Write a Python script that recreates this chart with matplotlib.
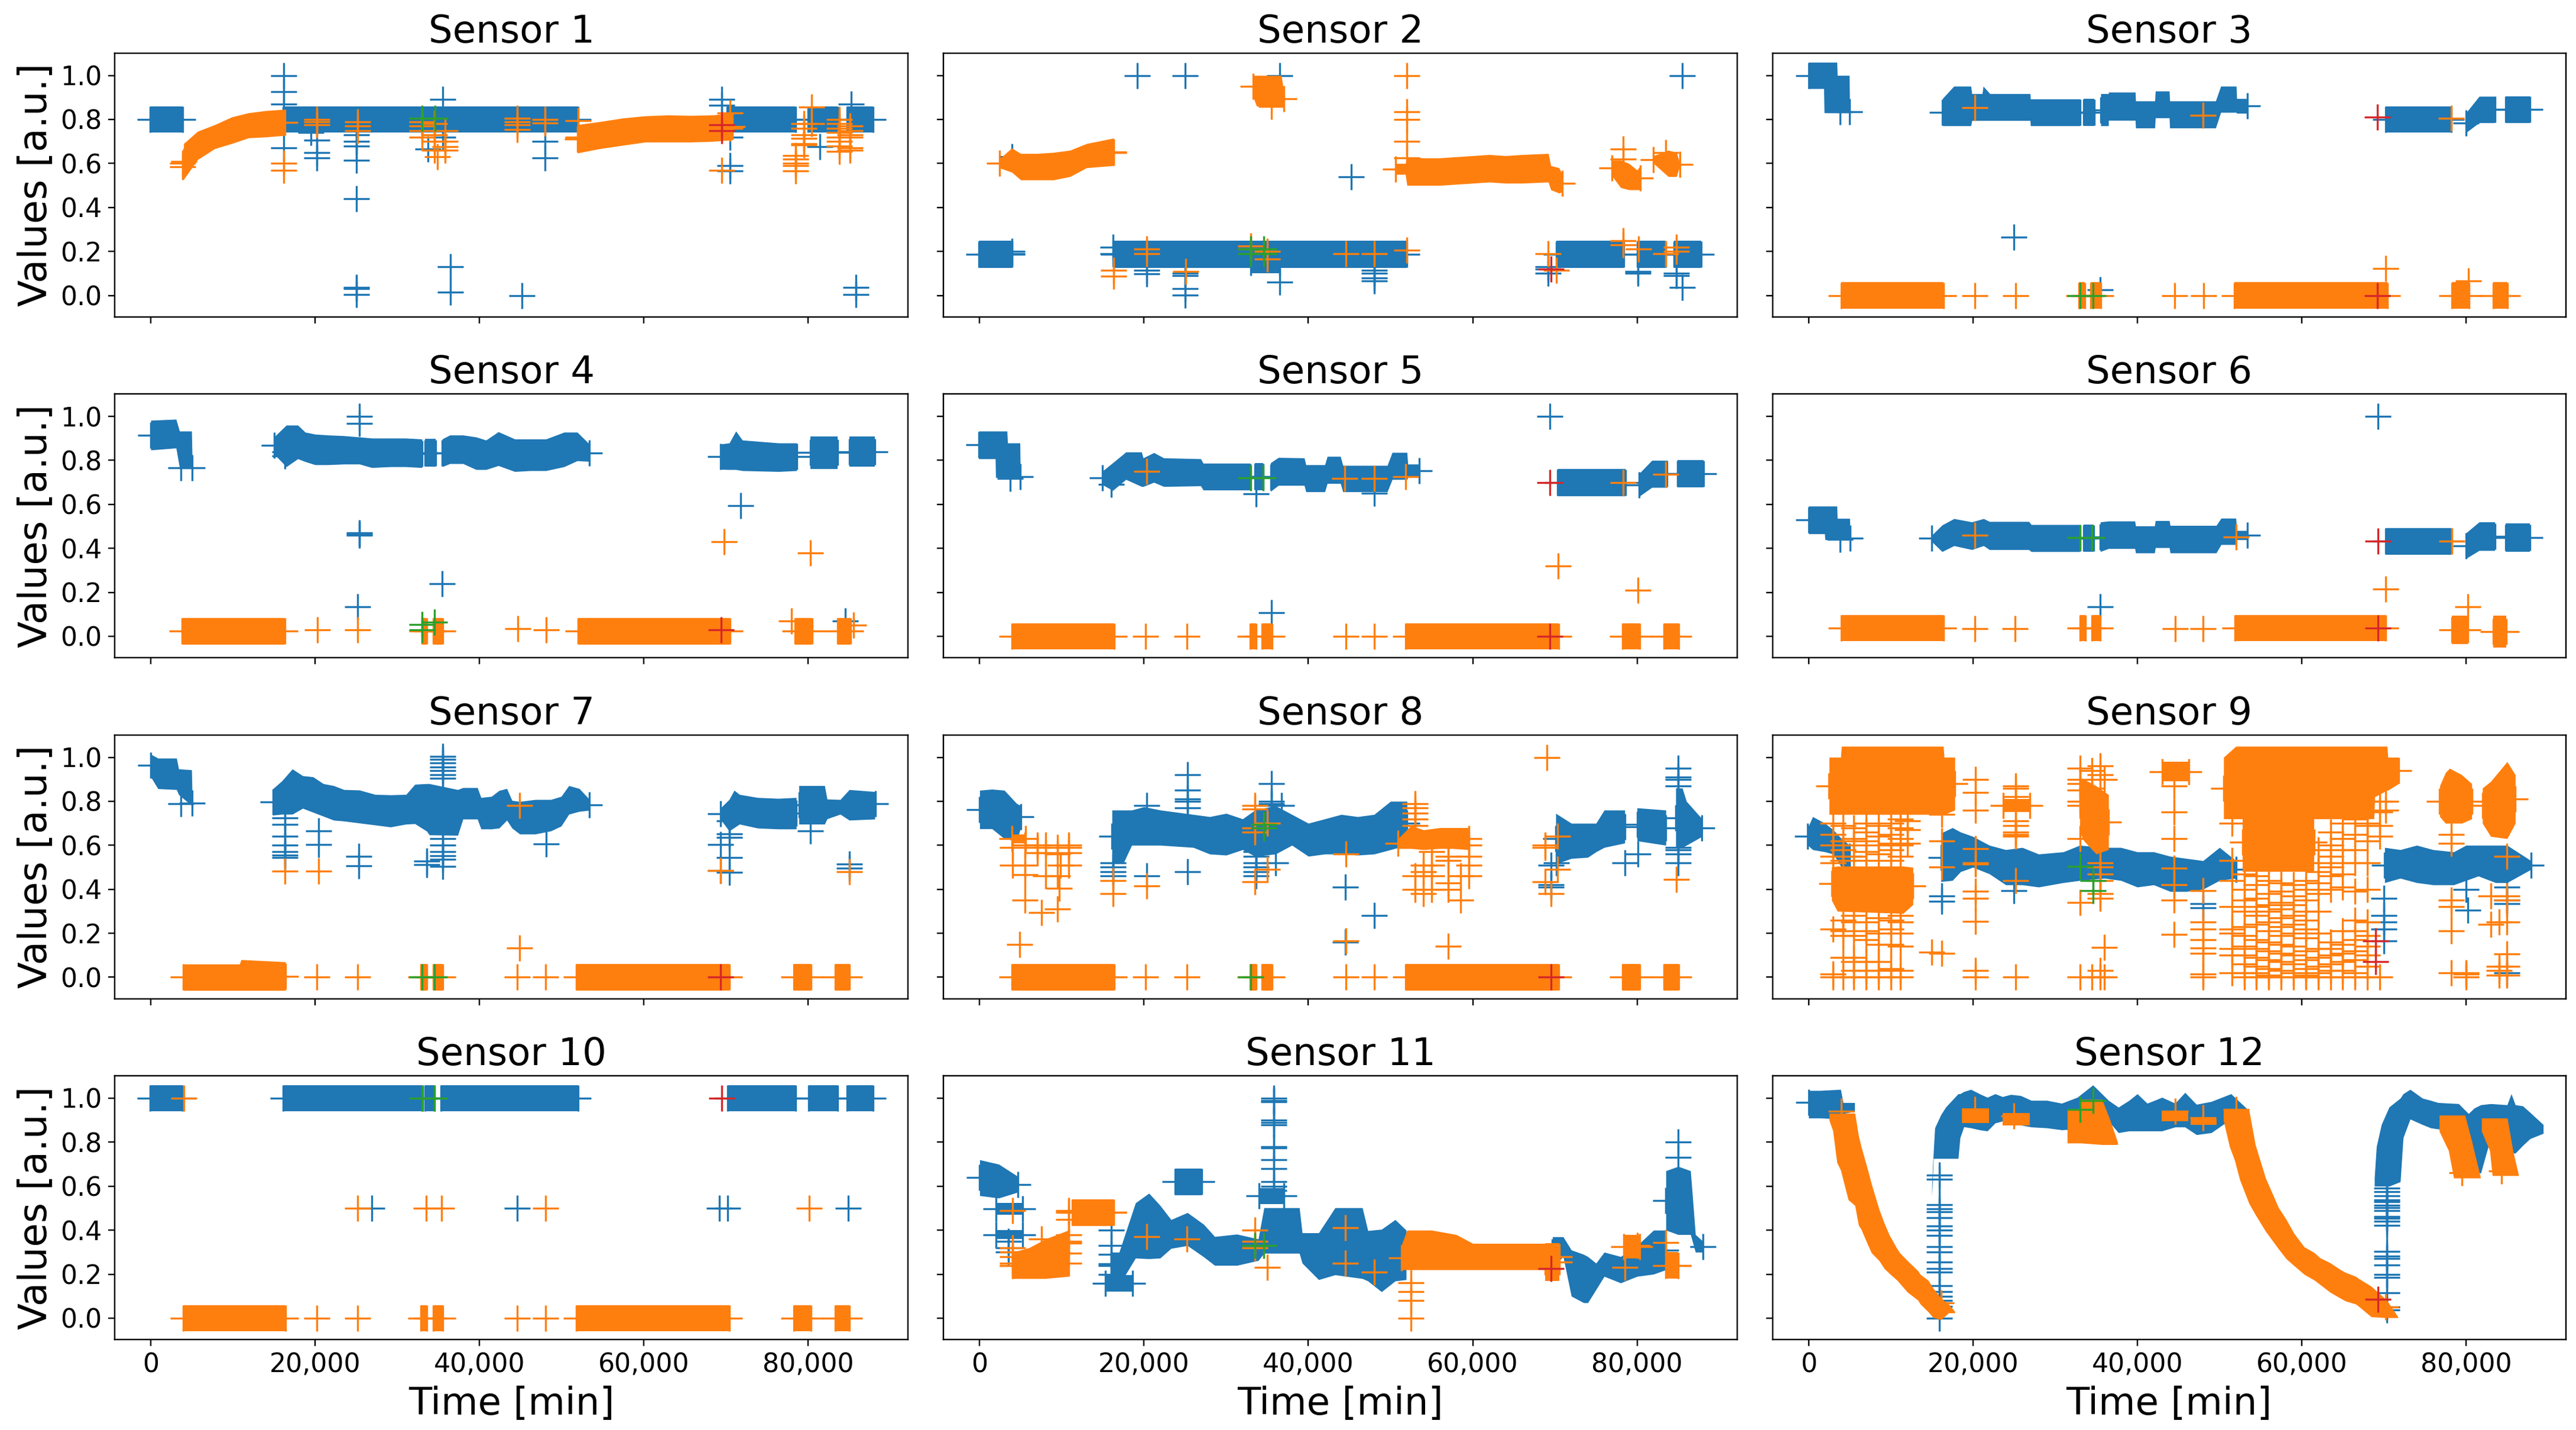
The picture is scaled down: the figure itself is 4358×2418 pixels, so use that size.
import matplotlib
matplotlib.use("Agg")
import matplotlib.pyplot as plt
from matplotlib.ticker import StrMethodFormatter

titles = [f"Sensor {i}" for i in range(1, 13)]
x_ticks = [0, 20000, 40000, 60000, 80000]
y_ticks = [0.0, 0.2, 0.4, 0.6, 0.8, 1.0]

zero_runs = [
    [(3950, -0.06, 0.06), (16400, -0.06, 0.06)],
    [(32900, -0.06, 0.06), (33600, -0.06, 0.06)],
    [(34350, -0.06, 0.06), (35550, -0.06, 0.06)],
    [(51800, -0.06, 0.06), (70450, -0.06, 0.06)],
    [(78250, -0.06, 0.06), (80350, -0.06, 0.06)],
    [(83300, -0.06, 0.06), (85050, -0.06, 0.06)],
]
zero_pts = [(20200, [0.0]), (25200, [0.0]), (44570, [0.0]), (48050, [0.0])]

# sensor 1
s1_blue_runs = [
    [(-100, 0.74, 0.86), (3900, 0.74, 0.86)],
    [(16100, 0.74, 0.86), (52000, 0.74, 0.86)],
    [(70100, 0.74, 0.86), (78500, 0.74, 0.86)],
    [(80000, 0.74, 0.86), (83600, 0.74, 0.86)],
    [(84700, 0.74, 0.86), (87900, 0.74, 0.86)],
]
s1_blue_pts = [(16200, [1.0, 0.925, 0.87, 0.67]), (19500, [0.74]), (20200, [0.705, 0.65, 0.625]),
               (25000, [0.73, 0.70, 0.68, 0.615, 0.44, 0.035, 0.03, 0.005]), (33700, [0.665]),
               (35500, [0.89, 0.72]), (36500, [0.13, 0.015]), (45200, [0.0]), (48000, [0.70, 0.625]),
               (69500, [0.89, 0.865]), (70500, [0.72, 0.59, 0.565]), (81400, [0.675]),
               (85200, [0.87]), (85800, [0.035, 0.003])]
s1_orange_runs = [
    [(4000, 0.527, 0.69), (5700, 0.617, 0.746), (7790, 0.667, 0.776), (9850, 0.69, 0.811), (11900, 0.716, 0.83),
     (14000, 0.72, 0.84), (16300, 0.727, 0.846)],
    [(51900, 0.647, 0.776), (54650, 0.667, 0.79), (57400, 0.682, 0.806), (60200, 0.697, 0.816), (62900, 0.697, 0.82),
     (65700, 0.697, 0.818), (68400, 0.70, 0.82), (70800, 0.707, 0.83)],
]
s1_orange_pts = [(3900, [0.60, 0.585]), (16200, [0.60, 0.57]), (20200, [0.80, 0.79, 0.775]), (25200, [0.79, 0.77, 0.75]),
                 (33000, [0.79, 0.77, 0.75, 0.72]), (34500, [0.78, 0.73, 0.70, 0.66]), (34900, [0.63]),
                 (35800, [0.75, 0.70, 0.675, 0.66]), (44600, [0.805, 0.79, 0.775, 0.755]), (48000, [0.80, 0.785]),
                 (52000, [0.795, 0.72, 0.71]), (69500, [0.57]), (70500, [0.83, 0.76]),
                 (78500, [0.635, 0.62, 0.60, 0.59, 0.565]), (79500, [0.78, 0.76, 0.73, 0.715, 0.69, 0.685]),
                 (80400, [0.855, 0.78]), (83800, [0.80, 0.78, 0.76, 0.74, 0.72, 0.70, 0.68, 0.655]),
                 (85100, [0.77, 0.75, 0.73, 0.72, 0.67, 0.66])]
s1_green_pts = [(33000, [0.805]), (34600, [0.805])]
s1_red_pts = [(69500, [0.775, 0.75])]

# sensor 2
s2_blue_runs = [
    [(-100, 0.125, 0.25), (3900, 0.125, 0.25)],
    [(16300, 0.125, 0.25), (52000, 0.125, 0.25)],
    [(33000, 0.10, 0.20), (36500, 0.10, 0.20)],
    [(70200, 0.125, 0.25), (78400, 0.125, 0.25)],
    [(80000, 0.125, 0.25), (83500, 0.125, 0.25)],
    [(84500, 0.125, 0.25), (87800, 0.125, 0.25)],
]
s2_blue_pts = [(19200, [1.0]), (25000, [1.0, 0.10, 0.09, 0.03, 0.002]), (36500, [1.0, 0.06]), (85500, [1.0, 0.035]),
               (45200, [0.54]), (16200, [0.22, 0.19]), (20300, [0.115, 0.097]), (48000, [0.115, 0.10, 0.08, 0.065]),
               (69200, [0.13, 0.12, 0.10]), (80100, [0.11, 0.10]), (84800, [0.10, 0.09]), (3900, [0.19, 0.20, 0.63])]
s2_orange_runs = [
    [(2400, 0.58, 0.62), (3900, 0.56, 0.67), (5000, 0.525, 0.645), (7000, 0.525, 0.645), (9000, 0.525, 0.65),
     (11000, 0.54, 0.66), (13000, 0.58, 0.69), (16300, 0.59, 0.715)],
    [(33300, 0.90, 1.0), (33700, 0.86, 1.0), (36700, 0.86, 1.0), (37000, 0.86, 0.93)],
    [(50600, 0.55, 0.60), (51800, 0.55, 0.60), (52000, 0.50, 0.63), (54000, 0.50, 0.625), (56000, 0.50, 0.625),
     (58000, 0.505, 0.63), (60000, 0.51, 0.635), (62000, 0.515, 0.64), (64000, 0.51, 0.635), (66000, 0.51, 0.64),
     (69200, 0.515, 0.645), (69500, 0.48, 0.59), (70500, 0.465, 0.58), (70900, 0.47, 0.55)],
    [(76900, 0.545, 0.615), (78000, 0.49, 0.615), (79000, 0.48, 0.60), (80000, 0.48, 0.57), (80400, 0.48, 0.59)],
    [(82000, 0.60, 0.635), (83800, 0.54, 0.66), (84800, 0.54, 0.65), (85200, 0.59, 0.60)],
]
s2_orange_pts = [(16300, [0.65, 0.115, 0.088]), (20300, [0.21, 0.19]), (25100, [0.11]), (33000, [0.225, 0.21]),
                 (35000, [0.20, 0.165]), (35500, [0.86]), (44600, [0.19]), (48000, [0.19]),
                 (52000, [1.0, 0.835, 0.80, 0.70, 0.625, 0.205]), (69200, [0.19]), (70200, [0.115]),
                 (78300, [0.665, 0.62, 0.25, 0.23]), (80200, [0.21]), (83500, [0.19, 0.65]), (84800, [0.22, 0.20])]
s2_green_pts = [(33000, [0.21, 0.19]), (34600, [0.21, 0.19])]
s2_red_pts = [(69500, [0.12])]

# sensor 3
s3_blue_runs = [
    [(0, 0.94, 1.06), (1850, 0.94, 1.06), (1900, 0.83, 1.06), (3450, 0.83, 1.06), (3500, 0.83, 1.0), (4950, 0.83, 1.0),
     (5000, 0.80, 0.87)],
    [(16300, 0.771, 0.895), (17680, 0.771, 0.951), (19750, 0.771, 0.951), (19870, 0.795, 0.917), (21130, 0.795, 0.917),
     (21250, 0.795, 0.951), (22070, 0.795, 0.917), (26960, 0.795, 0.917), (27000, 0.771, 0.893), (33040, 0.771, 0.893)],
    [(33480, 0.771, 0.893), (34730, 0.771, 0.893)],
    [(35550, 0.771, 0.917), (36490, 0.771, 0.917), (36500, 0.796, 0.924), (39750, 0.796, 0.924), (39800, 0.761, 0.884),
     (42130, 0.761, 0.884), (42200, 0.807, 0.929), (43890, 0.807, 0.929), (43950, 0.761, 0.884), (49530, 0.761, 0.884),
     (50160, 0.832, 0.951), (52040, 0.832, 0.951), (52100, 0.828, 0.895), (53420, 0.828, 0.895)],
    [(70200, 0.74, 0.86), (78200, 0.74, 0.86)],
    [(80000, 0.74, 0.83), (81600, 0.785, 0.905), (83500, 0.785, 0.905)],
    [(84800, 0.785, 0.905), (87800, 0.785, 0.905)],
]
s3_blue_pts = [(25000, [0.265]), (3800, [0.835]), (35500, [0.025])]
s3_orange_runs = zero_runs
s3_orange_pts = zero_pts + [(70200, [0.122]), (80300, [0.067]), (20250, [0.854]), (48000, [0.82]), (78200, [0.805])]
s3_green_pts = [(33000, [0.0]), (34600, [0.0])]
s3_red_pts = [(69200, [0.81, 0.0])]

# sensor 4
s4_blue_runs = [
    [(0, 0.847, 0.982), (3080, 0.856, 0.987), (3500, 0.767, 0.933), (4970, 0.765, 0.933), (5050, 0.73, 0.80)],
    [(15000, 0.829, 0.906), (16500, 0.771, 0.96), (17900, 0.807, 0.96), (18800, 0.794, 0.928), (20000, 0.78, 0.919),
     (21600, 0.78, 0.915), (23500, 0.783, 0.912), (25400, 0.783, 0.906), (26900, 0.767, 0.901), (29200, 0.771, 0.901),
     (31000, 0.771, 0.901), (33000, 0.767, 0.897)],
    [(33400, 0.771, 0.897), (34650, 0.771, 0.897)],
    [(35470, 0.771, 0.897), (36400, 0.785, 0.915), (38000, 0.785, 0.915), (39600, 0.758, 0.906), (40800, 0.758, 0.892),
     (42300, 0.776, 0.93), (44300, 0.749, 0.897), (46200, 0.753, 0.897), (48100, 0.753, 0.897), (50300, 0.771, 0.928),
     (51900, 0.798, 0.928), (53400, 0.795, 0.873)],
    [(69300, 0.759, 0.874), (70400, 0.758, 0.879), (71200, 0.758, 0.933), (72000, 0.753, 0.892), (76400, 0.749, 0.879),
     (78600, 0.753, 0.879)],
    [(80250, 0.762, 0.908), (83600, 0.762, 0.908)],
    [(85000, 0.771, 0.908), (88100, 0.771, 0.908)],
]
s4_blue_pts = [(25400, [1.0, 0.968, 0.47, 0.465, 0.46]), (35470, [0.24]), (25150, [0.135]), (71760, [0.595]),
               (3700, [0.765]), (84500, [0.07]), (16300, [0.84, 0.82])]
s4_orange_runs = [
    [(3840, -0.037, 0.084), (16350, -0.037, 0.084)],
    [(33000, -0.037, 0.084), (33600, -0.037, 0.084)],
    [(34400, -0.037, 0.084), (35500, -0.037, 0.084)],
    [(52000, -0.037, 0.084), (70500, -0.037, 0.084)],
    [(78400, -0.037, 0.084), (80450, -0.037, 0.084)],
    [(83600, -0.037, 0.084), (85150, -0.037, 0.084)],
]
s4_orange_pts = [(20250, [0.03]), (25200, [0.03]), (44650, [0.035]), (48100, [0.03]), (69750, [0.43]), (80300, [0.38]),
                 (78000, [0.07]), (85500, [0.05])]
s4_green_pts = [(33000, [0.055, 0.03]), (34500, [0.065])]
s4_red_pts = [(69400, [0.03])]

# sensor 5
s5_blue_runs = [
    [(-120, 0.807, 0.933), (1900, 0.807, 0.933), (1950, 0.722, 0.933), (3330, 0.722, 0.933), (3400, 0.722, 0.879),
     (4900, 0.722, 0.879), (4950, 0.69, 0.76)],
    [(14900, 0.69, 0.75), (16200, 0.663, 0.789), (17800, 0.713, 0.838), (19700, 0.681, 0.838), (19900, 0.681, 0.811),
     (21200, 0.70, 0.835), (22400, 0.681, 0.811), (26900, 0.684, 0.807), (27200, 0.665, 0.787), (32900, 0.665, 0.787)],
    [(33500, 0.665, 0.787), (34500, 0.665, 0.787)],
    [(35400, 0.659, 0.789), (36350, 0.686, 0.813), (39500, 0.686, 0.811), (39700, 0.657, 0.78), (42000, 0.657, 0.78),
     (42300, 0.695, 0.818), (43900, 0.695, 0.818), (44200, 0.657, 0.777), (49600, 0.657, 0.777), (50200, 0.713, 0.836),
     (52000, 0.713, 0.836), (52100, 0.722, 0.783), (53500, 0.722, 0.783)],
    [(70300, 0.636, 0.762), (78600, 0.636, 0.762)],
    [(80250, 0.636, 0.74), (81800, 0.677, 0.80), (83650, 0.677, 0.80)],
    [(84900, 0.677, 0.80), (88100, 0.677, 0.80)],
]
s5_blue_pts = [(69400, [1.0]), (35500, [0.107]), (33600, [0.648]), (3700, [0.717]), (16000, [0.69]), (48000, [0.65])]
s5_orange_runs = zero_runs
s5_orange_pts = zero_pts + [(70400, [0.32]), (80100, [0.21]), (20300, [0.75]), (48000, [0.717]), (44400, [0.717]),
                            (51800, [0.726]), (83500, [0.737]), (78300, [0.70])]
s5_green_pts = [(33000, [0.72]), (34500, [0.72])]
s5_red_pts = [(69400, [0.698, 0.0])]

# sensor 6
s6_blue_runs = [
    [(0, 0.466, 0.592), (1950, 0.466, 0.592), (2000, 0.439, 0.592), (3450, 0.439, 0.592), (3500, 0.439, 0.536),
     (5000, 0.439, 0.536), (5050, 0.41, 0.48)],
    [(15000, 0.43, 0.46), (16250, 0.385, 0.506), (17700, 0.412, 0.535), (19870, 0.394, 0.52), (21300, 0.412, 0.535),
     (22000, 0.394, 0.522), (26800, 0.394, 0.522), (27100, 0.385, 0.508), (33000, 0.385, 0.508)],
    [(33500, 0.385, 0.508), (34700, 0.385, 0.508)],
    [(35500, 0.385, 0.52), (36500, 0.399, 0.524), (39700, 0.399, 0.524), (39800, 0.379, 0.502), (42100, 0.379, 0.502),
     (42200, 0.403, 0.526), (43900, 0.403, 0.526), (44000, 0.379, 0.504), (49600, 0.379, 0.504), (50200, 0.417, 0.537),
     (52000, 0.417, 0.537), (52100, 0.439, 0.481), (53400, 0.439, 0.481)],
    [(70200, 0.37, 0.493), (78200, 0.37, 0.493)],
    [(80000, 0.354, 0.47), (81600, 0.39, 0.52), (83500, 0.39, 0.52)],
    [(84800, 0.385, 0.513), (87800, 0.385, 0.513)],
]
s6_blue_pts = [(69300, [1.0]), (35500, [0.134]), (3800, [0.44])]
s6_orange_runs = [
    [(3950, -0.021, 0.098), (16400, -0.021, 0.098)],
    [(33000, -0.021, 0.098), (33700, -0.021, 0.098)],
    [(34500, -0.021, 0.098), (35500, -0.021, 0.098)],
    [(51900, -0.021, 0.098), (70200, -0.021, 0.098)],
    [(78300, -0.035, 0.095), (80200, -0.035, 0.095)],
    [(83300, -0.05, 0.095), (84900, -0.05, 0.095)],
]
s6_orange_pts = [(20250, [0.035]), (25100, [0.035]), (44600, [0.035]), (48000, [0.035]), (70200, [0.216]),
                 (80200, [0.134]), (20250, [0.459]), (52000, [0.451]), (78300, [0.432])]
s6_green_pts = [(33000, [0.45]), (34500, [0.45])]
s6_red_pts = [(69300, [0.432, 0.037])]

# sensor 7
s7_blue_runs = [
    [(0, 0.911, 1.014), (880, 0.857, 0.996), (3140, 0.853, 0.996), (3400, 0.83, 0.947), (4970, 0.781, 0.943),
     (5050, 0.765, 0.82)],
    [(14900, 0.737, 0.858), (15970, 0.741, 0.893), (17230, 0.741, 0.947), (18490, 0.768, 0.916), (19750, 0.75, 0.911),
     (21000, 0.732, 0.88), (22260, 0.714, 0.871), (23520, 0.71, 0.853), (25400, 0.701, 0.851), (27300, 0.692, 0.831),
     (29180, 0.683, 0.829), (31070, 0.696, 0.831), (32140, 0.698, 0.877), (33580, 0.664, 0.88), (33900, 0.647, 0.88),
     (37360, 0.645, 0.853), (37990, 0.719, 0.862), (39750, 0.719, 0.862), (40190, 0.674, 0.817), (41450, 0.674, 0.822),
     (42390, 0.678, 0.849), (43330, 0.714, 0.858), (43960, 0.678, 0.804), (44900, 0.651, 0.799), (46800, 0.651, 0.808),
     (48680, 0.665, 0.808), (49940, 0.687, 0.822), (50880, 0.741, 0.871), (52140, 0.754, 0.858), (53400, 0.759, 0.808)],
    [(69300, 0.72, 0.768), (70380, 0.665, 0.808), (71000, 0.68, 0.85), (71640, 0.696, 0.831), (73840, 0.678, 0.817),
     (76350, 0.674, 0.813), (78550, 0.674, 0.817)],
    [(78870, 0.696, 0.871), (82000, 0.696, 0.871), (82300, 0.72, 0.81), (83900, 0.741, 0.808), (85000, 0.714, 0.853),
     (88100, 0.719, 0.844), (88200, 0.768, 0.808)],
]
s7_blue_pts = [(16300, [0.725, 0.696, 0.64, 0.602, 0.572, 0.555, 0.544]), (20400, [0.665, 0.604]),
               (25300, [0.55, 0.506]), (33600, [0.528, 0.512]),
               (35500, [1.005, 0.99, 0.975, 0.955, 0.94, 0.92, 0.905, 0.629, 0.60, 0.571, 0.552, 0.536, 0.504]),
               (48100, [0.606]), (69300, [0.603, 0.486]), (70400, [0.712, 0.651, 0.635, 0.544, 0.477]),
               (80300, [0.665]), (85000, [0.514, 0.495]), (3700, [0.79])]
s7_orange_runs = [
    [(3950, -0.06, 0.06), (10800, -0.06, 0.06), (11000, -0.06, 0.08), (16400, -0.06, 0.07)],
] + zero_runs[1:]
s7_orange_pts = zero_pts + [(16300, [0.483]), (20400, [0.483]), (44900, [0.781, 0.134]), (85000, [0.48]),
                            (69300, [0.486])]
s7_green_pts = [(33000, [0.0]), (34500, [0.0])]
s7_red_pts = [(69300, [0.0])]

# sensor 8
s8_blue_runs = [
    [(0, 0.675, 0.85), (1500, 0.675, 0.855), (3000, 0.63, 0.85), (4500, 0.62, 0.79), (5000, 0.68, 0.78)],
    [(16100, 0.52, 0.76), (17500, 0.52, 0.76), (18500, 0.60, 0.76), (20000, 0.60, 0.775), (22000, 0.60, 0.76),
     (24000, 0.595, 0.75), (26000, 0.59, 0.74), (28000, 0.56, 0.73), (30000, 0.555, 0.745), (32000, 0.58, 0.72),
     (33500, 0.55, 0.76), (36000, 0.56, 0.78), (38000, 0.60, 0.74), (40000, 0.55, 0.70), (42000, 0.56, 0.72),
     (44000, 0.56, 0.74), (46000, 0.555, 0.73), (48000, 0.56, 0.74), (50000, 0.58, 0.80), (52000, 0.60, 0.80)],
    [(70100, 0.515, 0.745), (72000, 0.54, 0.70), (74000, 0.545, 0.70), (75000, 0.57, 0.70), (76000, 0.59, 0.76),
     (78500, 0.61, 0.76)],
    [(80000, 0.62, 0.77), (83500, 0.60, 0.76)],
    [(84700, 0.59, 0.86), (85500, 0.59, 0.86), (86000, 0.60, 0.80), (87900, 0.64, 0.72)],
]
s8_blue_pts = [(25300, [0.92, 0.85, 0.81, 0.80, 0.77, 0.48]), (35500, [0.88, 0.80, 0.79, 0.78]), (36700, [0.78]),
               (20300, [0.78, 0.46]), (16200, [0.52, 0.50, 0.48, 0.46]), (33600, [0.57, 0.55, 0.52, 0.50, 0.48, 0.46]),
               (36000, [0.52]), (44500, [0.41, 0.16]), (48000, [0.28]), (69500, [0.51, 0.42, 0.41]), (70200, [0.52]),
               (78500, [0.52]), (80100, [0.56]), (85000, [0.95, 0.91, 0.90, 0.87, 0.58, 0.59, 0.56, 0.52])]
s8_orange_runs = zero_runs + [
    [(3900, 0.61, 0.65), (5600, 0.61, 0.65)],
    [(50900, 0.585, 0.63), (52500, 0.585, 0.69), (54000, 0.58, 0.67), (56000, 0.585, 0.68), (57500, 0.585, 0.68),
     (59500, 0.58, 0.68)],
]
s8_orange_pts = zero_pts + [(4000, [0.59, 0.51]), (4900, [0.15]), (5500, [0.60, 0.465, 0.35, 0.51]),
                            (7000, [0.60, 0.59, 0.565]), (7500, [0.295]), (8000, [0.60, 0.565, 0.46]),
                            (9500, [0.59, 0.56, 0.31, 0.46]), (9700, [0.405]), (9800, [0.51]),
                            (10800, [0.60, 0.59, 0.565, 0.51]), (16200, [0.44, 0.38]), (20300, [0.415]),
                            (33500, [0.78, 0.765, 0.68, 0.66, 0.435]), (35000, [0.70, 0.49]), (44600, [0.56, 0.165]),
                            (53000, [0.79, 0.77, 0.745, 0.72, 0.69, 0.46, 0.40]), (54000, [0.51, 0.48, 0.38]),
                            (55000, [0.57, 0.51, 0.46, 0.40]), (57000, [0.55, 0.53, 0.43, 0.40, 0.14]),
                            (58500, [0.46, 0.35]), (59500, [0.60, 0.55, 0.51, 0.46]), (69000, [1.0]),
                            (68800, [0.60, 0.59, 0.435]), (69500, [0.38]), (70300, [0.64, 0.49]), (84800, [0.445])]
s8_green_pts = [(33000, [0.0]), (34600, [0.695, 0.68])]
s8_red_pts = [(69500, [0.0])]

# sensor 9
s9_blue_runs = [
    [(-100, 0.60, 0.68), (500, 0.58, 0.73), (2000, 0.57, 0.70), (3000, 0.56, 0.67), (4000, 0.50, 0.63), (5000, 0.50, 0.60)],
    [(16100, 0.435, 0.655), (17500, 0.44, 0.68), (18500, 0.48, 0.66), (20000, 0.50, 0.64), (22000, 0.47, 0.60),
     (24000, 0.42, 0.58), (26000, 0.42, 0.59), (28000, 0.41, 0.56), (31000, 0.43, 0.57), (33000, 0.44, 0.60),
     (36000, 0.45, 0.59), (38000, 0.44, 0.59), (40000, 0.41, 0.57), (42000, 0.42, 0.57), (44000, 0.39, 0.55),
     (46000, 0.39, 0.54), (48000, 0.40, 0.53), (50000, 0.44, 0.59), (52000, 0.45, 0.53)],
    [(70100, 0.43, 0.59), (72000, 0.45, 0.58), (74000, 0.43, 0.60), (76000, 0.42, 0.58), (78500, 0.42, 0.57),
     (80000, 0.44, 0.60), (81500, 0.46, 0.60), (83600, 0.43, 0.60), (85000, 0.43, 0.60), (87900, 0.49, 0.53)],
]
s9_blue_pts = [(16200, [0.37, 0.345]), (48000, [0.335, 0.315]), (25000, [0.395]), (80000, [0.40]), (80200, [0.305]),
               (85000, [0.41, 0.35, 0.335, 0.02]), (70000, [0.36, 0.28, 0.25, 0.22, 0.165])]
s9_orange_runs = [
    [(2500, 0.74, 1.0), (3900, 0.74, 1.0), (4000, 0.74, 1.05), (16400, 0.74, 1.05), (16500, 0.74, 1.0), (17800, 0.76, 1.0)],
    [(2800, 0.35, 0.50), (3500, 0.30, 0.505), (11500, 0.29, 0.505), (12700, 0.33, 0.50)],
    [(23700, 0.75, 0.81), (26900, 0.75, 0.81)],
    [(33000, 0.66, 0.90), (33500, 0.62, 0.90), (35000, 0.56, 0.87), (36500, 0.58, 0.83)],
    [(43000, 0.89, 0.98), (46300, 0.89, 0.98)],
    [(50500, 0.72, 1.0), (52000, 0.72, 1.05), (68800, 0.72, 1.05), (68900, 0.82, 1.05), (70400, 0.85, 1.05),
     (70500, 0.85, 1.0), (71800, 0.88, 1.0)],
    [(52800, 0.48, 0.75), (61500, 0.48, 0.75)],
    [(76800, 0.73, 0.87), (77500, 0.70, 0.93), (78000, 0.70, 0.95), (79500, 0.70, 0.92), (80700, 0.72, 0.88)],
    [(82000, 0.70, 0.86), (83000, 0.64, 0.89), (85000, 0.63, 0.98), (86000, 0.70, 0.92)],
]
s9_orange_pts = [(3000, [0.70, 0.65, 0.60, 0.55, 0.52, 0.22, 0.014, 0.0]),
                 (4200, [0.69, 0.62, 0.58, 0.53, 0.26, 0.21, 0.19, 0.09, 0.0]),
                 (5500, [0.68, 0.63, 0.60, 0.55, 0.28, 0.25, 0.19, 0.09, 0.07, 0.03, 0.0]),
                 (7000, [0.70, 0.66, 0.62, 0.57, 0.53, 0.25, 0.21, 0.17, 0.07, 0.03, 0.0]),
                 (8500, [0.69, 0.64, 0.60, 0.56, 0.27, 0.20, 0.15, 0.07, 0.03, 0.0]),
                 (10000, [0.70, 0.65, 0.61, 0.58, 0.53, 0.26, 0.22, 0.15, 0.04, 0.0]),
                 (11200, [0.72, 0.68, 0.63, 0.60, 0.55, 0.28, 0.25, 0.20, 0.14, 0.03, 0.0]),
                 (12000, [0.71, 0.67, 0.61]), (16200, [0.74, 0.62, 0.50, 0.11]), (15000, [0.115]),
                 (20300, [0.90, 0.84, 0.76, 0.52, 0.515, 0.585, 0.39, 0.36, 0.255, 0.03, 0.0]),
                 (25200, [0.87, 0.86, 0.82, 0.71, 0.69, 0.66, 0.65, 0.64, 0.44, 0.0]),
                 (33000, [0.95, 0.90, 0.88, 0.85, 0.80, 0.63, 0.34, 0.0]), (34500, [0.94, 0.86, 0.0]),
                 (35500, [0.96, 0.92, 0.52, 0.50, 0.47, 0.44, 0.38, 0.36, 0.03, 0.0]), (36000, [0.90, 0.135, 0.0]),
                 (44500, [0.87, 0.75, 0.63, 0.495, 0.42, 0.35, 0.195]),
                 (48000, [0.395, 0.25, 0.22, 0.17, 0.133, 0.108, 0.014, 0.0]),
                 (51500, [0.70, 0.53, 0.44, 0.32, 0.22, 0.20, 0.13, 0.10, 0.02]),
                 (53000, [0.47, 0.40, 0.35, 0.30, 0.23, 0.19, 0.14, 0.10, 0.06, 0.02, 0.0]),
                 (54500, [0.46, 0.42, 0.36, 0.32, 0.28, 0.24, 0.17, 0.13, 0.09, 0.05, 0.02, 0.0]),
                 (56000, [0.44, 0.38, 0.33, 0.30, 0.25, 0.21, 0.16, 0.12, 0.08, 0.04, 0.01, 0.0]),
                 (57500, [0.43, 0.39, 0.34, 0.31, 0.27, 0.23, 0.19, 0.15, 0.11, 0.07, 0.03, 0.0]),
                 (59000, [0.42, 0.37, 0.33, 0.28, 0.24, 0.20, 0.14, 0.10, 0.06, 0.02, 0.0]),
                 (60500, [0.44, 0.40, 0.35, 0.30, 0.26, 0.22, 0.18, 0.12, 0.08, 0.04, 0.01, 0.0]),
                 (62000, [0.58, 0.52, 0.48, 0.43, 0.38, 0.30, 0.20, 0.13, 0.09, 0.05, 0.02, 0.0]),
                 (63500, [0.66, 0.60, 0.55, 0.50, 0.46, 0.40, 0.16, 0.13, 0.10, 0.06, 0.03, 0.0]),
                 (65000, [0.70, 0.63, 0.58, 0.52, 0.47, 0.41, 0.21, 0.15, 0.11, 0.07, 0.03, 0.0]),
                 (66500, [0.72, 0.65, 0.58, 0.52, 0.39, 0.26, 0.21, 0.17, 0.12, 0.08, 0.02, 0.0]),
                 (68000, [0.70, 0.69, 0.62, 0.52, 0.40, 0.25, 0.19, 0.14, 0.10, 0.05, 0.0]),
                 (69500, [0.80, 0.75, 0.69, 0.64, 0.0]), (70200, [0.80, 0.76]),
                 (78200, [0.65, 0.61, 0.35, 0.32, 0.21, 0.02]), (80000, [0.02, 0.015, 0.0]),
                 (83000, [0.37, 0.24]), (84000, [0.25, 0.05, 0.03, 0.01]), (85000, [0.55, 0.37, 0.35, 0.25, 0.107, 0.05, 0.01])]
s9_green_pts = [(33000, [0.505]), (34600, [0.44, 0.395])]
s9_red_pts = [(69000, [0.165, 0.07])]

# sensor 10
s10_blue_runs = [
    [(-100, 0.94, 1.06), (3900, 0.94, 1.06)],
    [(16100, 0.94, 1.06), (33100, 0.94, 1.06)],
    [(33400, 0.94, 1.06), (34500, 0.94, 1.06)],
    [(35300, 0.94, 1.06), (52000, 0.94, 1.06)],
    [(70200, 0.94, 1.06), (78450, 0.94, 1.06)],
    [(80050, 0.94, 1.06), (83600, 0.94, 1.06)],
    [(84700, 0.94, 1.06), (87900, 0.94, 1.06)],
]
s10_blue_pts = [(26900, [0.5]), (44600, [0.5]), (69200, [0.5]), (70200, [0.5]), (84900, [0.5])]
s10_orange_runs = zero_runs
s10_orange_pts = zero_pts + [(25200, [0.5]), (33500, [0.5]), (35400, [0.5]), (48050, [0.5]), (80100, [0.5]), (4000, [1.0])]
s10_green_pts = [(33000, [1.0]), (34500, [1.0])]
s10_red_pts = [(69500, [1.0])]

# sensor 11
s11_blue_runs = [
    [(0, 0.557, 0.72), (2330, 0.546, 0.70), (4660, 0.573, 0.644)],
    [(2000, 0.47, 0.524), (5200, 0.47, 0.524)],
    [(2000, 0.36, 0.40), (5200, 0.36, 0.40)],
    [(15300, 0.12, 0.196), (18600, 0.12, 0.196)],
    [(16000, 0.196, 0.30), (16970, 0.15, 0.30), (18960, 0.273, 0.524), (20600, 0.27, 0.568), (21950, 0.273, 0.513),
     (23290, 0.317, 0.448), (25280, 0.33, 0.48), (27280, 0.278, 0.426), (28600, 0.24, 0.371), (31300, 0.24, 0.382),
     (33900, 0.262, 0.36), (34600, 0.295, 0.502), (38900, 0.295, 0.502), (39250, 0.25, 0.388), (41250, 0.175, 0.388),
     (43250, 0.197, 0.502), (46570, 0.18, 0.502), (47240, 0.169, 0.398), (48900, 0.12, 0.404), (50560, 0.169, 0.448),
     (51900, 0.175, 0.40)],
    [(23800, 0.56, 0.68), (27000, 0.56, 0.68)],
    [(34000, 0.52, 0.59), (37000, 0.52, 0.59)],
    [(69700, 0.23, 0.37), (71000, 0.28, 0.37), (72000, 0.10, 0.31), (73500, 0.07, 0.29), (74000, 0.07, 0.28),
     (75000, 0.13, 0.25), (76000, 0.19, 0.30), (78000, 0.16, 0.28), (80000, 0.19, 0.33), (82000, 0.20, 0.40),
     (83500, 0.22, 0.40)],
    [(83500, 0.40, 0.67), (85000, 0.38, 0.69), (86500, 0.38, 0.67), (87100, 0.30, 0.38), (88000, 0.30, 0.35)],
]
s11_blue_pts = [(3500, [0.35, 0.32, 0.30]), (35800, [1.0, 0.99, 0.985, 0.90, 0.89, 0.88, 0.78, 0.775, 0.72,
                                                    0.68, 0.62, 0.60, 0.58]),
                (16000, [0.40, 0.33, 0.29, 0.24, 0.20]), (85000, [0.80, 0.73])]
s11_orange_runs = [
    [(4000, 0.18, 0.30), (6000, 0.18, 0.32), (8000, 0.18, 0.36), (10800, 0.19, 0.40)],
    [(11300, 0.42, 0.54), (16300, 0.42, 0.54)],
    [(51300, 0.22, 0.33), (52000, 0.22, 0.40), (55000, 0.22, 0.40), (58000, 0.22, 0.38), (60000, 0.22, 0.34),
     (68800, 0.22, 0.34)],
    [(68800, 0.17, 0.34), (70500, 0.17, 0.34)],
    [(78400, 0.27, 0.38), (80300, 0.27, 0.38)],
    [(83500, 0.18, 0.30), (85000, 0.18, 0.30)],
]
s11_orange_pts = [(4000, [0.49, 0.32, 0.30, 0.28, 0.25, 0.24]), (7500, [0.36, 0.30]),
                  (10800, [0.49, 0.48, 0.45, 0.38, 0.35, 0.34, 0.25]), (20300, [0.37]), (25200, [0.36]),
                  (44500, [0.41, 0.25]), (48000, [0.21]), (52500, [0.16, 0.12, 0.08, 0.0]), (78500, [0.23]),
                  (80000, [0.33]), (83500, [0.345]), (85000, [0.24]), (35000, [0.23]), (33500, [0.40, 0.35, 0.32]),
                  (16300, [0.48]), (70500, [0.28])]
s11_green_pts = [(33500, [0.33]), (34600, [0.33])]
s11_red_pts = [(69500, [0.225])]

# sensor 12 (outlines already take in the marker arms)
s12_blue_runs = []
s12_blue_shapes = [
    [(0, 0.91, 1.035), (1400, 0.91, 1.035), (3900, 0.905, 1.04), (4200, 0.93, 0.98), (5600, 0.94, 0.98)],
    [(15000, 0.556, 0.61), (15200, 0.726, 0.76), (15360, 0.726, 0.865), (16100, 0.726, 0.925), (16700, 0.726, 0.96),
     (18200, 0.726, 1.02), (18430, 0.82, 1.02), (18900, 0.87, 1.03), (19750, 0.865, 1.04), (20800, 0.856, 1.02),
     (21750, 0.851, 1.004), (22700, 0.887, 1.02), (23600, 0.896, 1.007), (24600, 0.896, 1.017), (25800, 0.878, 1.012),
     (27100, 0.869, 0.99), (29000, 0.865, 0.99), (30800, 0.856, 0.977), (32700, 0.86, 1.004), (34600, 0.84, 1.06),
     (36500, 0.896, 0.99), (37700, 0.843, 0.959), (39000, 0.851, 0.99), (40000, 0.851, 1.02), (41200, 0.851, 0.977),
     (42100, 0.851, 0.99), (43000, 0.851, 1.004), (44600, 0.869, 0.977), (45800, 0.869, 1.026), (47200, 0.834, 0.972),
     (49000, 0.843, 0.985), (51400, 0.905, 1.02), (53400, 0.905, 0.95)],
    [(68850, 0.60, 0.637), (69100, 0.60, 0.78), (69700, 0.60, 0.88), (70650, 0.60, 0.96), (72000, 0.62, 1.0),
     (72350, 0.82, 1.02), (73200, 0.905, 1.04), (74700, 0.88, 1.0), (75700, 0.865, 0.99), (76600, 0.86, 0.98),
     (79100, 0.85, 0.975), (80300, 0.825, 0.93), (81000, 0.66, 0.955), (81800, 0.66, 0.97), (83000, 0.82, 0.975),
     (85000, 0.75, 0.97), (85500, 0.75, 1.02), (86000, 0.75, 0.97), (86900, 0.785, 0.965), (87800, 0.816, 0.935),
     (89400, 0.84, 0.88)],
]
s12_blue_pts = [(15900, [0.0, 0.054, 0.08, 0.10, 0.122, 0.149, 0.209, 0.225, 0.254, 0.30, 0.325, 0.377, 0.40, 0.418,
                         0.458, 0.484, 0.498, 0.516, 0.632, 0.65]),
                (70350, [0.037, 0.05, 0.115, 0.185, 0.199, 0.243, 0.27, 0.283, 0.304, 0.422, 0.44, 0.453, 0.462,
                         0.489, 0.503, 0.512, 0.53, 0.538, 0.555, 0.574, 0.592]),
                (0, [0.98])]
s12_orange_runs = []
s12_orange_shapes = [
    [(2500, 0.90, 0.932), (2950, 0.852, 0.932), (3450, 0.708, 0.932), (3900, 0.673, 0.932), (4830, 0.538, 0.932),
     (5640, 0.512, 0.932), (6080, 0.422, 0.829), (6400, 0.404, 0.78), (7210, 0.333, 0.673), (7650, 0.297, 0.61),
     (8590, 0.261, 0.494), (9220, 0.225, 0.431), (9840, 0.203, 0.377), (10780, 0.172, 0.315), (11100, 0.158, 0.297),
     (12040, 0.118, 0.261), (13290, 0.082, 0.216), (13600, 0.064, 0.199), (14550, 0.029, 0.172), (15170, 0.002, 0.136),
     (16110, -0.007, 0.091), (17050, 0.024, 0.064), (17800, 0.024, 0.03)],
    [(18680, 0.888, 0.954), (21940, 0.888, 0.954)],
    [(23640, 0.877, 0.932), (26900, 0.877, 0.932)],
    [(31470, 0.796, 0.948), (33000, 0.796, 0.948), (33100, 0.796, 0.995), (35700, 0.789, 0.995), (36700, 0.789, 0.90),
     (37600, 0.789, 0.80)],
    [(42950, 0.896, 0.943), (46200, 0.896, 0.943)],
    [(46500, 0.878, 0.905), (49650, 0.878, 0.905)],
    [(50470, 0.90, 0.945), (51220, 0.78, 0.945), (51850, 0.717, 0.945), (52480, 0.628, 0.945), (53600, 0.521, 0.945),
     (54360, 0.471, 0.789), (55610, 0.395, 0.637), (57180, 0.315, 0.503), (58120, 0.27, 0.449), (59060, 0.239, 0.386),
     (60310, 0.199, 0.324), (61570, 0.172, 0.297), (62200, 0.154, 0.275), (63450, 0.118, 0.252), (64700, 0.091, 0.221),
     (65330, 0.078, 0.208), (66580, 0.064, 0.19), (66900, 0.055, 0.181), (68470, 0.006, 0.145), (70350, 0.002, 0.082),
     (71720, 0.002, 0.006)],
    [(76740, 0.85, 0.923), (77870, 0.762, 0.923), (78500, 0.637, 0.923), (79870, 0.637, 0.923), (80690, 0.637, 0.807),
     (81760, 0.637, 0.64)],
    [(81880, 0.85, 0.91), (82880, 0.762, 0.91), (83200, 0.648, 0.91), (85020, 0.648, 0.91), (85710, 0.648, 0.762),
     (86400, 0.648, 0.65)],
]
s12_orange_pts = [(4000, [0.94]), (20250, [0.95]), (25000, [0.92]), (44600, [0.94]), (48000, [0.91]), (52000, [0.95]),
                  (79500, [0.66]), (84300, [0.67]), (16100, [0.07]), (70200, [0.05])]
s12_green_pts = [(33000, [0.95]), (34600, [0.99])]
s12_red_pts = [(69300, [0.085])]

blue_runs = [s1_blue_runs, s2_blue_runs, s3_blue_runs, s4_blue_runs, s5_blue_runs, s6_blue_runs,
             s7_blue_runs, s8_blue_runs, s9_blue_runs, s10_blue_runs, s11_blue_runs, s12_blue_runs]
blue_pts = [s1_blue_pts, s2_blue_pts, s3_blue_pts, s4_blue_pts, s5_blue_pts, s6_blue_pts,
            s7_blue_pts, s8_blue_pts, s9_blue_pts, s10_blue_pts, s11_blue_pts, s12_blue_pts]
orange_runs = [s1_orange_runs, s2_orange_runs, s3_orange_runs, s4_orange_runs, s5_orange_runs, s6_orange_runs,
               s7_orange_runs, s8_orange_runs, s9_orange_runs, s10_orange_runs, s11_orange_runs, s12_orange_runs]
orange_pts = [s1_orange_pts, s2_orange_pts, s3_orange_pts, s4_orange_pts, s5_orange_pts, s6_orange_pts,
              s7_orange_pts, s8_orange_pts, s9_orange_pts, s10_orange_pts, s11_orange_pts, s12_orange_pts]
green_pts = [s1_green_pts, s2_green_pts, s3_green_pts, s4_green_pts, s5_green_pts, s6_green_pts,
             s7_green_pts, s8_green_pts, s9_green_pts, s10_green_pts, s11_green_pts, s12_green_pts]
red_pts = [s1_red_pts, s2_red_pts, s3_red_pts, s4_red_pts, s5_red_pts, s6_red_pts,
           s7_red_pts, s8_red_pts, s9_red_pts, s10_red_pts, s11_red_pts, s12_red_pts]

MARKER_S = 210
MARKER_LW = 1.1


def draw_marks(ax, pts, color):
    xs = [t for t, ys in pts for _ in ys]
    ys = [y for _, vals in pts for y in vals]
    ax.scatter(xs, ys, marker="+", s=MARKER_S, linewidths=MARKER_LW, color=color)


def draw_shapes(ax, runs, color):
    for run in runs:
        ax.fill_between([k[0] for k in run], [k[1] for k in run], [k[2] for k in run], color=color, linewidth=0)


def draw_runs(ax, runs, color):
    draw_shapes(ax, runs, color)
    for run in runs:
        # the stretch ends show the marker arms
        first, last = run[0], run[-1]
        ends = [(first[0], [(first[1] + first[2]) / 2]), (last[0], [(last[1] + last[2]) / 2])]
        draw_marks(ax, ends, color)


fig, axes = plt.subplots(4, 3, sharex=True, sharey=True, figsize=(4358 / 220, 2418 / 220), dpi=220)
fig.subplots_adjust(left=194 / 4358, right=4341 / 4358, top=1 - 90 / 2418, bottom=1 - 2265 / 2418,
                    wspace=60 / 1342, hspace=131 / 446)

for i, ax in enumerate(axes.flat):
    draw_runs(ax, blue_runs[i], "C0")
    if i == 11:
        draw_shapes(ax, s12_blue_shapes, "C0")
    draw_marks(ax, blue_pts[i], "C0")
    draw_runs(ax, orange_runs[i], "C1")
    if i == 11:
        draw_shapes(ax, s12_orange_shapes, "C1")
    draw_marks(ax, orange_pts[i], "C1")
    draw_marks(ax, green_pts[i], "C2")
    draw_marks(ax, red_pts[i], "C3")
    ax.set_title(titles[i], fontsize=21)
    ax.set_xticks(x_ticks)
    ax.set_yticks(y_ticks)
    ax.xaxis.set_major_formatter(StrMethodFormatter("{x:,.0f}"))
    ax.tick_params(labelsize=14.5)
    ax.set_xlim(-4390, 92160)
    ax.set_ylim(-0.097, 1.101)

for ax in axes[:, 0]:
    ax.set_ylabel("Values [a.u.]", fontsize=21.5, labelpad=3)
for ax in axes[-1, :]:
    ax.set_xlabel("Time [min]", fontsize=21)

fig.savefig("out.png", dpi=220)
